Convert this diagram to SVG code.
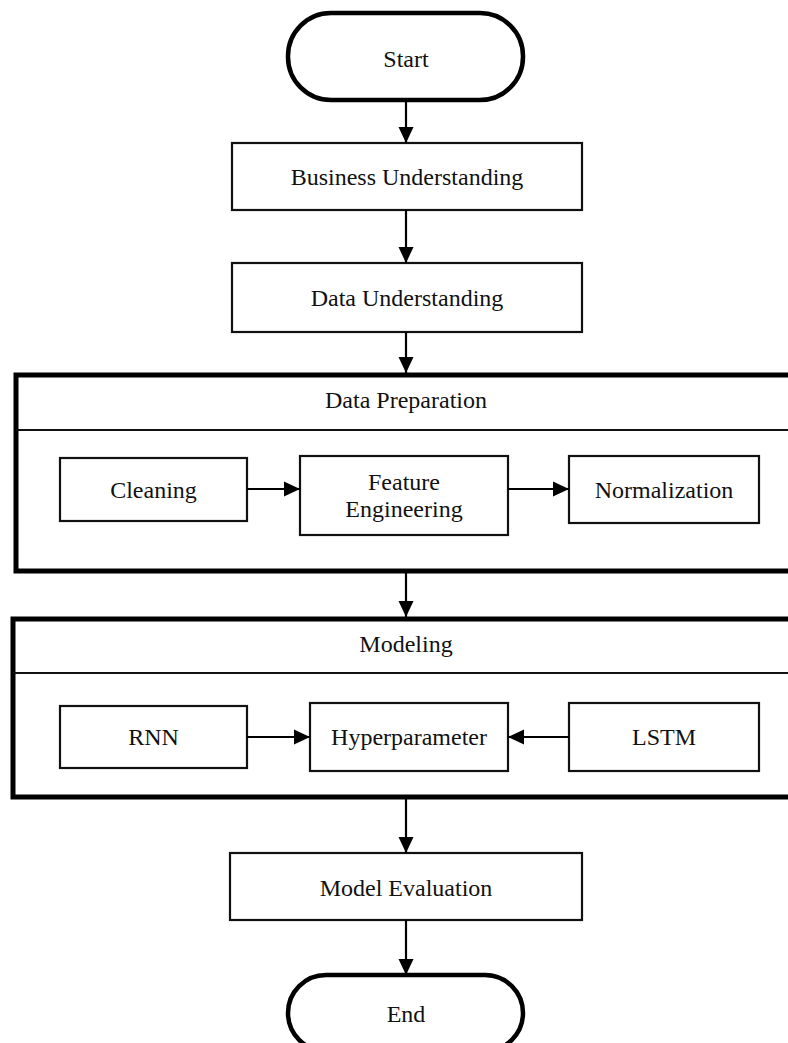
<svg xmlns="http://www.w3.org/2000/svg" width="788" height="1043" viewBox="0 0 788 1043">
<style>
text{font-family:"Liberation Serif","Times New Roman",serif;font-size:24px;fill:#111;text-anchor:middle}
.term{fill:#fff;stroke:#000;stroke-width:4.5}
.box{fill:#fff;stroke:#111;stroke-width:2.2}
.cont{fill:#fff;stroke:#000;stroke-width:5}
.div{stroke:#111;stroke-width:2.2}
.conn{stroke:#000;stroke-width:2.2;fill:none;marker-end:url(#ah)}
</style>
<defs>
<marker id="ah" markerUnits="userSpaceOnUse" markerWidth="16" markerHeight="16" viewBox="0 0 16 16" refX="16" refY="8" orient="auto">
<path d="M0,0.5 L16,8 L0,15.5 Z" fill="#000"/>
</marker>
</defs>
<rect width="788" height="1043" fill="#fff"/>
<g id="start"><rect class="term" x="288" y="13" width="235" height="87" rx="43"/><text x="406" y="67">Start</text></g>
<g id="business"><rect class="box" x="232" y="143" width="350" height="67"/><text x="407" y="185">Business Understanding</text></g>
<g id="data-understanding"><rect class="box" x="232" y="263" width="350" height="69"/><text x="407" y="306">Data Understanding</text></g>
<g id="data-preparation"><rect class="cont" x="16" y="375" width="800" height="196"/><line class="div" x1="16" y1="430" x2="788" y2="430"/><text x="406" y="408">Data Preparation</text></g>
<g id="cleaning"><rect class="box" x="60" y="458" width="187" height="63"/><text x="153.5" y="498">Cleaning</text></g>
<g id="feature-engineering"><rect class="box" x="300" y="456" width="208" height="79"/><text x="404" y="490">Feature</text><text x="404" y="517">Engineering</text></g>
<g id="normalization"><rect class="box" x="569" y="456" width="190" height="67"/><text x="664" y="498">Normalization</text></g>
<g id="modeling"><rect class="cont" x="13" y="619" width="800" height="178"/><line class="div" x1="13" y1="673" x2="788" y2="673"/><text x="406" y="652">Modeling</text></g>
<g id="rnn"><rect class="box" x="60" y="706" width="187" height="62"/><text x="153.5" y="745">RNN</text></g>
<g id="hyperparameter"><rect class="box" x="310" y="703" width="198" height="68"/><text x="409" y="745">Hyperparameter</text></g>
<g id="lstm"><rect class="box" x="569" y="703" width="190" height="68"/><text x="664" y="745">LSTM</text></g>
<g id="model-evaluation"><rect class="box" x="230" y="853" width="352" height="67"/><text x="406" y="896">Model Evaluation</text></g>
<g id="end"><rect class="term" x="288" y="975" width="235" height="76" rx="38"/><text x="406" y="1022">End</text></g>
<g id="connectors">
<line class="conn" x1="406" y1="100" x2="406" y2="143"/>
<line class="conn" x1="406" y1="210" x2="406" y2="263"/>
<line class="conn" x1="406" y1="332" x2="406" y2="373"/>
<line class="conn" x1="247" y1="489" x2="300" y2="489"/>
<line class="conn" x1="508" y1="489" x2="569" y2="489"/>
<line class="conn" x1="406" y1="573" x2="406" y2="617"/>
<line class="conn" x1="247" y1="737" x2="310" y2="737"/>
<line class="conn" x1="569" y1="737" x2="508" y2="737"/>
<line class="conn" x1="406" y1="799" x2="406" y2="853"/>
<line class="conn" x1="406" y1="920" x2="406" y2="975"/>
</g>
</svg>
